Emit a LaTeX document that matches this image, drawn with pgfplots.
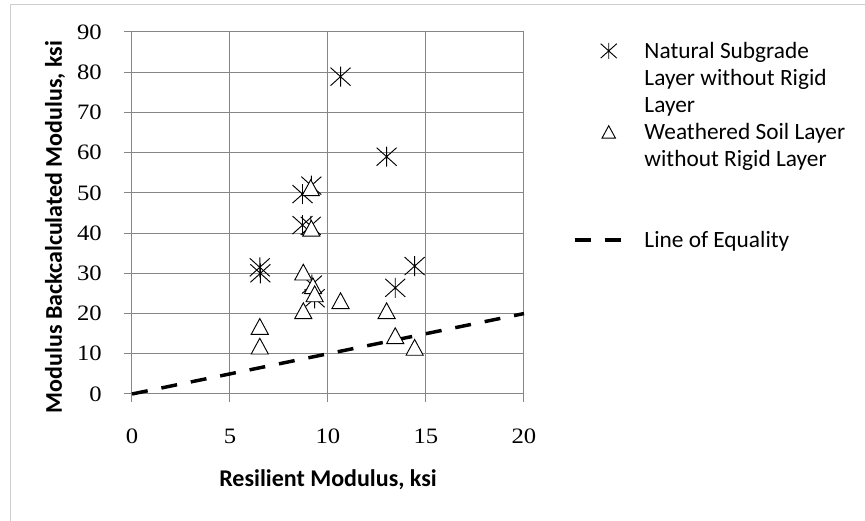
\documentclass[border=0pt]{standalone}
\usepackage{fontspec}
\setmainfont{Carlito}
\newfontfamily\tickfont{Liberation Serif}[FakeStretch=1.12]
\usepackage{pgfplots}
\pgfplotsset{compat=1.18}
\definecolor{gridgray}{RGB}{134,134,134}
\definecolor{framegray}{RGB}{205,205,205}
\pgfdeclareplotmark{xstar}{%
  \pgfpathmoveto{\pgfqpoint{0pt}{\pgfplotmarksize}}%
  \pgfpathlineto{\pgfqpoint{0pt}{-\pgfplotmarksize}}%
  \pgfpathmoveto{\pgfqpoint{-\pgfplotmarksize}{-0.9\pgfplotmarksize}}%
  \pgfpathlineto{\pgfqpoint{\pgfplotmarksize}{0.9\pgfplotmarksize}}%
  \pgfpathmoveto{\pgfqpoint{-\pgfplotmarksize}{0.9\pgfplotmarksize}}%
  \pgfpathlineto{\pgfqpoint{\pgfplotmarksize}{-0.9\pgfplotmarksize}}%
  \pgfusepathqstroke}
\pgfdeclareplotmark{xtri}{%
  \pgfpathmoveto{\pgfqpoint{0pt}{0.8\pgfplotmarksize}}%
  \pgfpathlineto{\pgfqpoint{-0.87\pgfplotmarksize}{-0.8\pgfplotmarksize}}%
  \pgfpathlineto{\pgfqpoint{0.87\pgfplotmarksize}{-0.8\pgfplotmarksize}}%
  \pgfpathclose
  \pgfusepathqfillstroke}
\pgfplotsset{
  starlegend/.style={legend image code/.code={\draw[mark repeat=2,mark phase=2,##1,mark size=6pt] plot coordinates {(0pt,0pt)(25.5pt,0pt)(36pt,0pt)};}},
  trilegend/.style={legend image code/.code={\draw[mark repeat=2,mark phase=2,##1,mark size=5.8pt] plot coordinates {(0pt,0pt)(25.5pt,0pt)(36pt,0pt)};}},
  dashlegend/.style={legend image code/.code={\draw[##1] (0pt,0pt) -- (36pt,0pt);}},
}
\begin{document}
\begin{tikzpicture}
\path[use as bounding box] (0pt,0pt) rectangle (648.75pt,390.75pt);
\draw[framegray, line width=0.75pt] (7.5pt,0pt) -- (7.5pt,387pt) -- (648.75pt,387pt);
\begin{axis}[
  at={(99pt,95.25pt)}, anchor=south west,
  scale only axis, width=294pt, height=271.5pt,
  xmin=0, xmax=20, ymin=0, ymax=90,
  xtick={0,5,10,15,20}, ytick={0,10,20,30,40,50,60,70,80,90},
  grid=major, major grid style={gridgray, line width=0.75pt},
  axis line style={gridgray, line width=0.75pt},
  tick style={gridgray, line width=0.75pt},
  tick align=outside, major tick length=6pt,
  xtick pos=bottom, ytick pos=left,
  /pgf/number format/assume math mode=true,
  tick label style={font=\tickfont\fontsize{16.5}{19}\selectfont, inner sep=0pt},
  xticklabel style={anchor=north, yshift=-20pt},
  yticklabel style={anchor=east, xshift=-16.5pt},
  xlabel={Resilient Modulus, ksi},
  ylabel={Modulus Backcalculated Modulus, ksi},
  label style={font=\bfseries\fontsize{18}{21}\selectfont},
  xlabel style={at={(axis description cs:0.5,-0.2376)}, anchor=center},
  ylabel style={at={(axis description cs:-0.196,0.461)}, anchor=center},
  legend cell align=left,
  legend style={at={(axis description cs:1.125,0.985)}, anchor=north west,
    draw=none, fill=none, inner sep=0pt, outer sep=0pt,
    row sep=0pt, column sep=15pt,
    font=\fontsize{17.5}{20}\selectfont,
    nodes={inner sep=0pt, text height=15.7pt, text depth=4.55pt}},
  clip=false,
]
\addplot[only marks, mark=xstar, mark size=7.5pt, draw=black, line width=0.7pt, starlegend]
  coordinates {
  (10.64,78.9) (12.99,59.0) (8.70,49.7) (9.15,51.8) (8.70,42.0) (9.12,41.8)
  (6.52,31.5) (6.55,30.0) (14.42,31.8) (13.43,26.4) (9.18,27.2) (9.32,23.8)
  };
\addlegendentry{Natural Subgrade}
\addlegendimage{empty legend}\addlegendentry{Layer without Rigid}
\addlegendimage{empty legend}\addlegendentry{Layer}
\addplot[only marks, mark=xtri, mark size=7.4pt, draw=black, line width=0.7pt,
  mark options={fill=white}, trilegend]
  coordinates {
  (9.12,51.3) (9.15,41.2) (8.74,30.3) (9.23,26.9) (9.32,24.9) (8.74,20.7)
  (10.64,23.2) (12.99,20.7) (13.43,14.5) (14.42,11.6) (6.52,16.8) (6.52,11.9)
  };
\addlegendentry{Weathered Soil Layer}
\addlegendimage{empty legend}\addlegendentry{without Rigid Layer}
\addlegendimage{empty legend}\addlegendentry{}
\addlegendimage{empty legend}\addlegendentry{}
\addplot[black, line width=2.6pt, dash pattern=on 12pt off 10.5pt, dashlegend]
  coordinates {(0,0) (20,20)};
\addlegendentry{Line of Equality}
\end{axis}
\end{tikzpicture}
\end{document}
